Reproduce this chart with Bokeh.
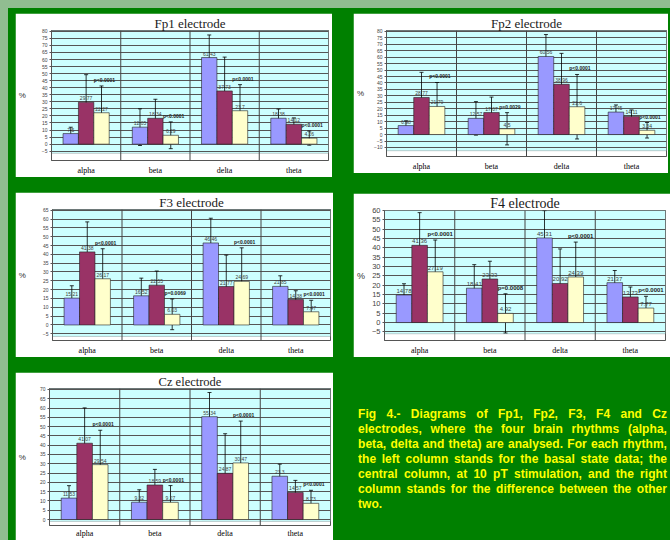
from bokeh.plotting import figure
from bokeh.models import (FactorRange, Range1d, FixedTicker, BoxAnnotation, Span,
                          Whisker, TeeHead, ColumnDataSource, Div, GlobalInlineStyleSheet)
from bokeh.transform import dodge
from bokeh.layouts import row, column
from bokeh.core.properties import value
from bokeh.embed import file_html
from bokeh.resources import INLINE

rhythms = ["alpha", "beta", "delta", "theta"]

fp1_basal = [7.5, 12.05, 61.43, 18.38]
fp1_stim = [29.77, 18.34, 37.73, 14.12]
fp1_diff = [22.27, 6.29, 23.70, 4.26]
fp1_err_basal = [4.5, 13.0, 16.0, 6.5]
fp1_err_stim = [19.5, 13.5, 24.0, 4.5]
fp1_err_diff = [19.0, 9.5, 18.5, 5.0]
fp1_p = ["p<0.0001", "p<0.0001", "p<0.0001", "p<0.0001"]

fp2_basal = [6.98, 12.57, 60.56, 17.45]
fp2_stim = [28.77, 17.07, 38.96, 14.11]
fp2_diff = [21.79, 4.50, 21.60, 3.34]
fp2_err_basal = [3.7, 13.0, 17.0, 5.5]
fp2_err_stim = [19.5, 12.0, 24.0, 5.0]
fp2_err_diff = [18.6, 12.5, 25.0, 6.0]
fp2_p = ["p<0.0001", "p=0.0029", "p<0.0001", "p<0.0001"]

f3_basal = [15.21, 16.52, 46.46, 21.85]
f3_stim = [41.38, 22.55, 21.77, 14.38]
f3_diff = [26.17, 6.03, 24.69, 7.47]
f3_err_basal = [7.0, 10.0, 14.0, 6.0]
f3_err_stim = [17.0, 8.0, 17.8, 5.0]
f3_err_diff = [17.0, 8.7, 19.0, 6.5]
f3_p = ["p<0.0001", "p=0.0069", "p<0.0001", "p<0.0001"]

f4_basal = [14.78, 18.41, 45.31, 21.37]
f4_stim = [41.36, 23.33, 20.92, 13.73]
f4_diff = [27.19, 4.92, 24.39, 7.77]
f4_err_basal = [6.0, 12.6, 14.6, 6.5]
f4_err_stim = [17.5, 9.5, 18.5, 5.3]
f4_err_diff = [17.0, 10.5, 18.7, 6.3]
f4_p = ["p<0.0001", "p=0.0008", "p<0.0001", "p<0.0001"]

cz_basal = [11.53, 9.32, 55.34, 23.3]
cz_stim = [41.07, 18.59, 24.87, 14.57]
cz_diff = [29.54, 9.27, 30.47, 8.73]
cz_err_basal = [6.7, 6.7, 13.0, 6.5]
cz_err_stim = [19.0, 8.4, 21.3, 6.5]
cz_err_diff = [18.5, 9.0, 22.5, 7.0]
cz_p = ["p<0.0001", "p<0.0001", "p<0.0001", "p<0.0001"]

fp1_ticks = list(range(-5, 81, 5))
fp2_ticks = list(range(-10, 81, 5))
f3_ticks = list(range(-5, 66, 5))
f4_ticks = list(range(-5, 61, 5))
cz_ticks = list(range(0, 71, 5))

caption_lines = [
    "Fig 4.- Diagrams of Fp1, Fp2, F3, F4 and Cz",
    "electrodes, where the four brain rhythms (alpha,",
    "beta, delta and theta) are analysed. For each rhythm,",
    "the left column stands for the basal state data; the",
    "central column, at 10 pT stimulation, and the right",
    "column stands for the difference between the other",
    "two.",
]

COLORS = {"basal": "#9999ff", "stim": "#993366", "diff": "#ffffcc"}
W = 1 / 4.5
SANS = "Liberation Sans"
SERIF = "Liberation Serif"


def make_chart(title, basal, stim, diff, eb, es, ed, pv, ticks, cfg):
    data = dict(cat=rhythms, basal=basal, stim=stim, diff=diff, p=pv)
    for key, vals, errs in (("basal", basal, eb), ("stim", stim, es), ("diff", diff, ed)):
        data[key + "_hi"] = [v + e for v, e in zip(vals, errs)]
        data[key + "_lo"] = [v - e for v, e in zip(vals, errs)]
        data[key + "_lab"] = [f"{v:g}" for v in vals]
    data["p_y"] = data["diff_hi"]
    src = ColumnDataSource(data)

    p = figure(x_range=FactorRange(*rhythms, range_padding=0),
               y_range=Range1d(*cfg["yr"]),
               width=cfg["w"], height=cfg["h"], output_backend="svg",
               toolbar_location=None, margin=cfg["margin"],
               min_border_left=cfg["b"][0], min_border_right=cfg["b"][1],
               min_border_top=cfg["b"][2], min_border_bottom=cfg["b"][3],
               background_fill_color="white", border_fill_color="white",
               outline_line_color="#555555", outline_line_width=1)
    p.title.text = title
    p.title.align = "center"
    p.title.text_font = SERIF
    p.title.text_font_style = "normal"
    p.title.text_font_size = cfg["title_fs"]
    p.title.text_color = "#1a1a1a"
    p.title.standoff = 0

    p.add_layout(BoxAnnotation(bottom=cfg["cyan_lo"], top=cfg["yr"][1],
                               fill_color="#ccffff", fill_alpha=1,
                               line_color="#555555", line_width=1, level="image"))

    p.ygrid.ticker = FixedTicker(ticks=ticks)
    p.ygrid.grid_line_color = "#555555"
    p.ygrid.grid_line_width = 1
    p.xgrid.grid_line_color = None

    for i in range(1, len(rhythms)):
        p.add_layout(Span(location=i, dimension="height", line_color="#444444", line_width=1))

    for key, off in (("basal", -W), ("stim", 0.0), ("diff", W)):
        xs = dodge("cat", off, range=p.x_range)
        p.vbar(x=xs, top=key, bottom=0, width=W, source=src,
               fill_color=COLORS[key], line_color="#222222", line_width=0.6)
        p.text(x=xs, y=key, text=key + "_lab", source=src, text_align="center",
               text_baseline="bottom", y_offset=-2, text_font=value(SANS),
               text_font_size=cfg["lab_fs"], text_color="#404040")
        p.add_layout(Whisker(source=src, base=dodge("cat", off, range=p.x_range),
                             upper=key + "_hi", lower=key + "_lo",
                             line_color="black", line_width=0.8,
                             upper_head=TeeHead(size=4, line_color="black", line_width=0.8),
                             lower_head=TeeHead(size=4, line_color="black", line_width=0.8)))

    p.text(x=dodge("cat", W / 2, range=p.x_range), y="p_y", text="p", source=src,
           text_align="left", text_baseline="bottom", y_offset=-3,
           text_font=value(SANS), text_font_style="bold",
           text_font_size=cfg["p_fs"], text_color="#222222")

    ya = p.yaxis[0]
    ya.ticker = FixedTicker(ticks=ticks)
    ya.major_label_text_font = SANS
    ya.major_label_text_font_size = cfg["tick_fs"]
    ya.major_label_text_color = "#444444"
    ya.major_tick_out = 2
    ya.major_tick_in = 0
    ya.major_label_standoff = 2
    ya.minor_tick_line_color = None
    ya.axis_line_color = "#555555"
    ya.major_tick_line_color = "#555555"
    ya.axis_label = "%"
    ya.axis_label_orientation = "horizontal"
    ya.axis_label_text_font = SANS
    ya.axis_label_text_font_style = "normal"
    ya.axis_label_text_font_size = cfg["pct_fs"]
    ya.axis_label_text_color = "#333333"
    ya.axis_label_standoff = cfg["pct_so"]

    xa = p.xaxis[0]
    xa.axis_line_color = None
    xa.major_tick_line_color = None
    xa.major_tick_out = 0
    xa.major_tick_in = 0
    xa.major_label_standoff = cfg["cat_so"]
    xa.major_label_text_font = SERIF
    xa.major_label_text_font_size = cfg["cat_fs"]
    xa.major_label_text_color = "black"
    return p


base_cfg = dict(title_fs="13px", lab_fs="5px", p_fs="5px", tick_fs="5px",
                pct_fs="8px", cat_fs="8px", cat_so=5)

cfg_fp1 = dict(base_cfg, w=317, h=164, b=(32, 4, 16, 15), yr=(-11.6, 80.6),
               cyan_lo=-6.5, pct_so=13, margin=(5, 0, 0, 7))
cfg_fp2 = dict(base_cfg, w=315, h=160, b=(29, 2, 16, 13), yr=(-17.0, 80.7),
               cyan_lo=-12.5, pct_so=7, margin=(5, 0, 0, 21))
cfg_f3 = dict(base_cfg, w=318, h=165, b=(32, 3, 15, 15), yr=(-8.8, 65.4),
              cyan_lo=-6.5, pct_so=14, margin=(15, 0, 0, 7))
cfg_f4 = dict(base_cfg, w=317, h=164, b=(25, 5, 14, 12), yr=(-9.6, 60.0),
              cyan_lo=-6.0, pct_so=4, margin=(16, 0, 0, 20),
              title_fs="14px", lab_fs="6px", p_fs="6px", tick_fs="7.5px", pct_fs="9px")
cfg_cz = dict(base_cfg, w=318, h=168, b=(28, 3, 13, 13), yr=(-3.2, 70.5),
              cyan_lo=-1.0, pct_so=11, margin=(15, 0, 0, 7), title_fs="12.5px", cat_so=3)

p_fp1 = make_chart("Fp1 electrode", fp1_basal, fp1_stim, fp1_diff, fp1_err_basal,
                   fp1_err_stim, fp1_err_diff, fp1_p, fp1_ticks, cfg_fp1)
p_fp2 = make_chart("Fp2 electrode", fp2_basal, fp2_stim, fp2_diff, fp2_err_basal,
                   fp2_err_stim, fp2_err_diff, fp2_p, fp2_ticks, cfg_fp2)
p_f3 = make_chart("F3 electrode", f3_basal, f3_stim, f3_diff, f3_err_basal,
                  f3_err_stim, f3_err_diff, f3_p, f3_ticks, cfg_f3)
p_f4 = make_chart("F4 electrode", f4_basal, f4_stim, f4_diff, f4_err_basal,
                  f4_err_stim, f4_err_diff, f4_p, f4_ticks, cfg_f4)
p_cz = make_chart("Cz electrode", cz_basal, cz_stim, cz_diff, cz_err_basal,
                  cz_err_stim, cz_err_diff, cz_p, cz_ticks, cfg_cz)

line_html = []
for i, ln in enumerate(caption_lines):
    last = "justify" if i < len(caption_lines) - 1 else "left"
    line_html.append(
        f'<div style="width:309px;text-align:justify;text-align-last:{last};">{ln}</div>')
caption_html = ('<div style="font-family:\'Liberation Sans\',Arial,sans-serif;font-weight:bold;'
                'font-size:12px;line-height:15px;letter-spacing:0.05px;color:#ffff00;">'
                + "".join(line_html) + "</div>")
caption = Div(text=caption_html, width=310, height=115, margin=(50, 0, 0, 25),
              styles={"overflow": "hidden"})

inner = column(row(p_fp1, p_fp2), row(p_f3, p_f4), row(p_cz, caption),
               width=662, height=532, margin=(8, 0, 0, 8),
               styles={"background-color": "#008000", "overflow": "hidden"})
root = column(inner, width=670, height=540,
              styles={"background-color": "#91bd91", "overflow": "hidden"},
              stylesheets=[GlobalInlineStyleSheet(css="body{background-color:#91bd91;}")])

open("out.html", "w").write(file_html(root, INLINE, title="Fig 4"))
